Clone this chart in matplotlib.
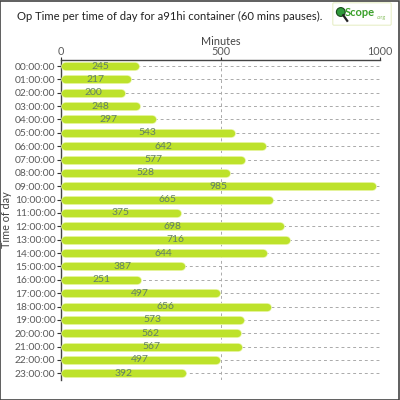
import matplotlib
matplotlib.use("Agg")
import matplotlib.pyplot as plt
from matplotlib.patches import FancyBboxPatch, Circle, Rectangle
import matplotlib.lines as mlines

hours = [f"{h:02d}:00:00" for h in range(24)]
values = [245, 217, 200, 248, 297, 543, 642, 577, 528, 985, 665, 375,
          698, 716, 644, 387, 251, 497, 656, 573, 562, 567, 497, 392]
xticks = [0, 500, 1000]

plt.rcParams['font.family'] = ['Lato', 'DejaVu Sans']

fig = plt.figure(figsize=(4, 4), dpi=100)
fig.patch.set_facecolor('white')
ax = fig.add_axes([0.1525, 0.05, 0.7975, 0.80])

ypos = list(range(len(hours)))
cap = 11.5  # half of line width in data units
starts = [cap + 2 for v in values]
ends = [v - cap for v in values]

ax.hlines(ypos, starts, ends, colors='#e6f5a0', linewidth=6.3, capstyle='round', zorder=3)
ax.hlines(ypos, starts, ends, colors='#bde22b', linewidth=5.2, capstyle='round', zorder=4)

for y, v in zip(ypos, values):
    ax.text(v / 2, y, str(v), ha='center', va='center', fontsize=7.5,
            color='#627f66', zorder=5)

ax.set_xlim(0, 1000)
ax.set_ylim(23.5, -0.45)
ax.set_yticks(ypos)
ax.set_yticklabels(hours, fontsize=7.4, color='#5a5a5a')
ax.set_xticks(xticks)
ax.set_xticklabels([str(t) for t in xticks], fontsize=7.8, color='#5a5a5a')
ax.xaxis.tick_top()
ax.xaxis.set_label_position('top')
ax.set_xlabel('Minutes', fontsize=7.8, color='#444444')
ax.xaxis.set_label_coords(0.5, 1.047)
ax.set_ylabel('Time of day', fontsize=7.8, color='#444444')
ax.yaxis.set_label_coords(-0.153, 0.5)
ax.tick_params(axis='y', length=3, width=0.8, color='#333333', pad=1)
ax.tick_params(axis='x', length=2, width=0.8, color='#333333', pad=0)

for s in ['right', 'bottom']:
    ax.spines[s].set_visible(False)
for s in ['left', 'top']:
    ax.spines[s].set_color('#444444')
    ax.spines[s].set_linewidth(1)

ax.grid(True, axis='both', linestyle=(0, (3, 3)), color='#aaaaaa', linewidth=0.7, zorder=0)
ax.set_axisbelow(True)

fig.text(0.042, 0.96, 'Op Time per time of day for a91hi container (60 mins pauses).',
         fontsize=8.1, color='#222222', ha='left', va='center')

# logo
fig.patches.append(FancyBboxPatch((0.835, 0.94), 0.14, 0.05, boxstyle='round,pad=0.003',
                                  transform=fig.transFigure, facecolor='white',
                                  edgecolor='#e8efc8', linewidth=0.8))
fig.patches.append(Circle((0.852, 0.97), 0.011, transform=fig.transFigure,
                          facecolor='#2f9a3a', edgecolor='#1a4a1a', linewidth=0.8))
fig.lines.append(mlines.Line2D([0.858, 0.868], [0.962, 0.948], transform=fig.transFigure,
                               color='#222222', linewidth=1.6))
fig.text(0.863, 0.968, 'Scope', fontsize=8, color='#3aa02a', ha='left', va='center',
         fontweight='bold')
fig.text(0.941, 0.957, '.org', fontsize=4, color='#88c060', ha='left', va='center')

# figure border
fig.patches.append(Rectangle((0.001, 0.001), 0.997, 0.997, transform=fig.transFigure,
                             fill=False, edgecolor='#444444', linewidth=1.2))

fig.savefig('out.png', dpi=100)
